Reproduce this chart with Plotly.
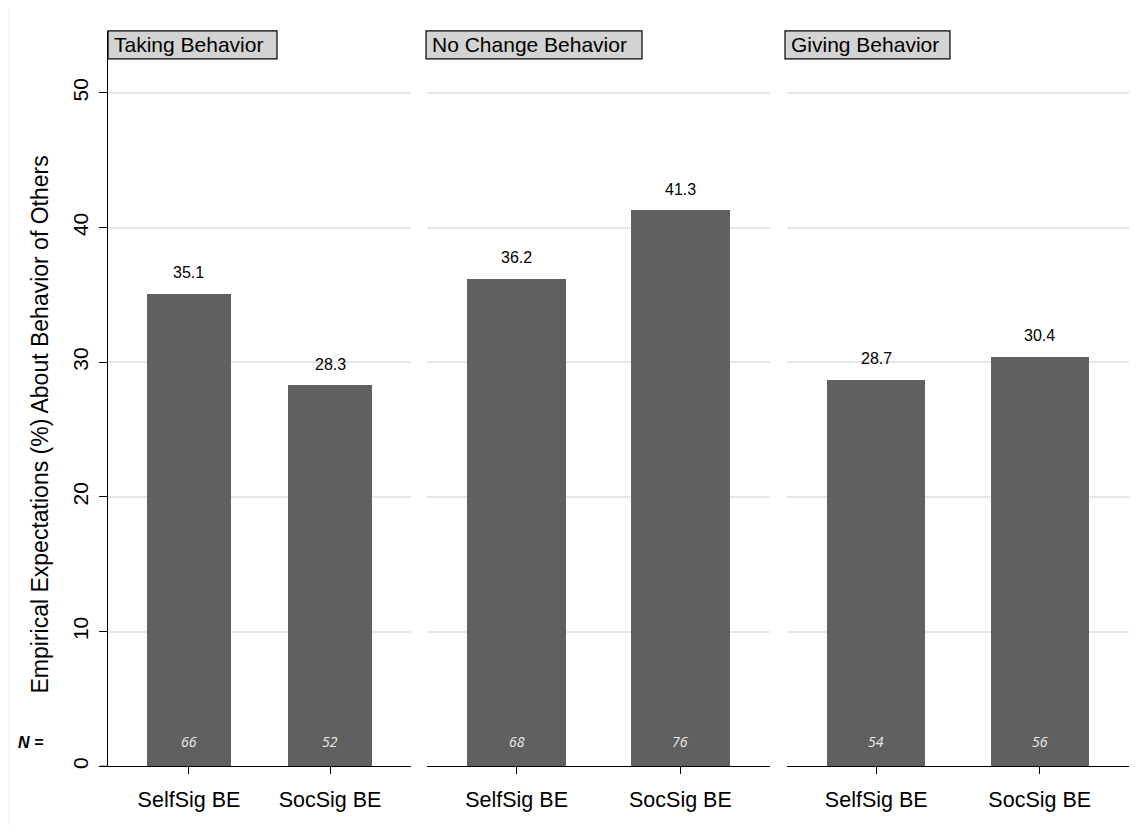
import plotly.graph_objects as go

# The page body has an 8px margin; positions below are measured on the page
# and converted into figure pixels by subtracting OFF.
OFF = 8
W, H = 1146 - 2 * OFF, 836 - 2 * OFF

panels = ["Taking Behavior", "No Change Behavior", "Giving Behavior"]
categories = ["SelfSig BE", "SocSig BE"]
values = [[35.1, 28.3], [36.2, 41.3], [28.7, 30.4]]
n_counts = [[66, 52], [68, 76], [54, 56]]
y_ticks = [0, 10, 20, 30, 40, 50]
y_title = "Empirical Expectations (%) About Behavior of Others"

BAR = "#606060"
FONT = "Liberation Sans, Arial, sans-serif"

def fx(px):
    return (px - OFF) / W

def fy(py):
    return 1 - (py - OFF) / H

# page-pixel layout
x_domains_px = [(108, 411), (427, 770), (787, 1129)]
x_ranges = [(-0.574, 1.574), (-0.547, 1.547), (-0.546, 1.546)]
header_boxes_px = [(108, 277), (426, 642), (785, 950)]
y_dom = [fy(769), fy(31)]
y_range = [0, 54.6]

fig = go.Figure()
annotations = []
shapes = []

for i, pname in enumerate(panels):
    sfx = "" if i == 0 else str(i + 1)
    fig.add_trace(go.Bar(
        x=categories, y=values[i], width=0.6,
        marker=dict(color=BAR, line=dict(width=0)),
        xaxis="x" + sfx, yaxis="y" + sfx, showlegend=False,
        hoverinfo="x+y",
    ))
    xa = dict(
        domain=[fx(x_domains_px[i][0]), fx(x_domains_px[i][1])],
        range=list(x_ranges[i]), anchor="y" + sfx,
        showline=True, linecolor="black", linewidth=1,
        ticks="outside", ticklen=7, tickcolor="black", tickwidth=1,
        ticklabelstandoff=7,
        tickfont=dict(family=FONT, size=21.5, color="black"),
        showgrid=False, zeroline=False, fixedrange=True,
    )
    ya = dict(
        domain=y_dom, range=y_range, anchor="x" + sfx,
        tickvals=y_ticks, showgrid=True, gridcolor="#e6e6e6", gridwidth=1.5,
        zeroline=False, fixedrange=True,
    )
    if i == 0:
        ya.update(showline=True, linecolor="black", linewidth=1,
                  ticks="outside", ticklen=8, tickcolor="black",
                  tickangle=-90, showticklabels=True, ticklabelstandoff=3,
                  tickfont=dict(family=FONT, size=21, color="black"))
    else:
        ya.update(showline=False, showticklabels=False, ticks="")
    fig.update_layout(**{"xaxis" + sfx: xa, "yaxis" + sfx: ya})

    # header box
    bx0, bx1 = header_boxes_px[i]
    shapes.append(dict(type="rect", xref="paper", yref="paper",
                       x0=fx(bx0), x1=fx(bx1), y0=fy(59), y1=fy(31),
                       fillcolor="#d3d3d3", line=dict(color="black", width=1.2),
                       layer="above"))
    annotations.append(dict(
        xref="paper", yref="paper", x=fx(bx0 + 4), y=fy(45),
        xanchor="left", yanchor="middle", text=pname, showarrow=False,
        font=dict(family=FONT, size=21, color="black"),
    ))
    for j, c in enumerate(categories):
        annotations.append(dict(
            xref="x" + sfx, yref="y" + sfx, x=c, y=values[i][j],
            text=f"{values[i][j]:.1f}", showarrow=False,
            yanchor="middle", yshift=21,
            font=dict(family=FONT, size=16, color="black"),
        ))
        annotations.append(dict(
            xref="x" + sfx, yref="y" + sfx, x=c, y=1.8,
            text=f"<i>{n_counts[i][j]}</i>", showarrow=False,
            yanchor="middle",
            font=dict(family="Open Sans, sans-serif", size=14, color="#ececec"),
        ))

# y-axis title
annotations.append(dict(
    xref="paper", yref="paper", x=fx(40), y=fy(426),
    text=y_title, textangle=-90, showarrow=False,
    xanchor="center", yanchor="middle",
    font=dict(family=FONT, size=23, color="black"),
))

annotations.append(dict(
    xref="paper", yref="paper", x=fx(30), y=fy(745),
    text="<b><i>N =</i></b>", showarrow=False, xanchor="center", yanchor="middle",
    font=dict(family=FONT, size=16, color="black"),
))

# x-axis extension left of y axis in the first panel
shapes.append(dict(type="line", xref="paper", yref="paper",
                   x0=fx(100), x1=fx(108), y0=fy(769), y1=fy(769),
                   line=dict(color="black", width=1)))
# faint outer border line
shapes.append(dict(type="line", xref="paper", yref="paper",
                   x0=0.001, x1=0.001, y0=0, y1=1,
                   line=dict(color="#eeeeee", width=1)))

fig.update_layout(
    width=W, height=H, margin=dict(l=0, r=0, t=0, b=0),
    paper_bgcolor="white", plot_bgcolor="white",
    annotations=annotations, shapes=shapes,
    bargap=0, showlegend=False,
    font=dict(family=FONT, color="black"),
)

fig.write_html("out.html")
